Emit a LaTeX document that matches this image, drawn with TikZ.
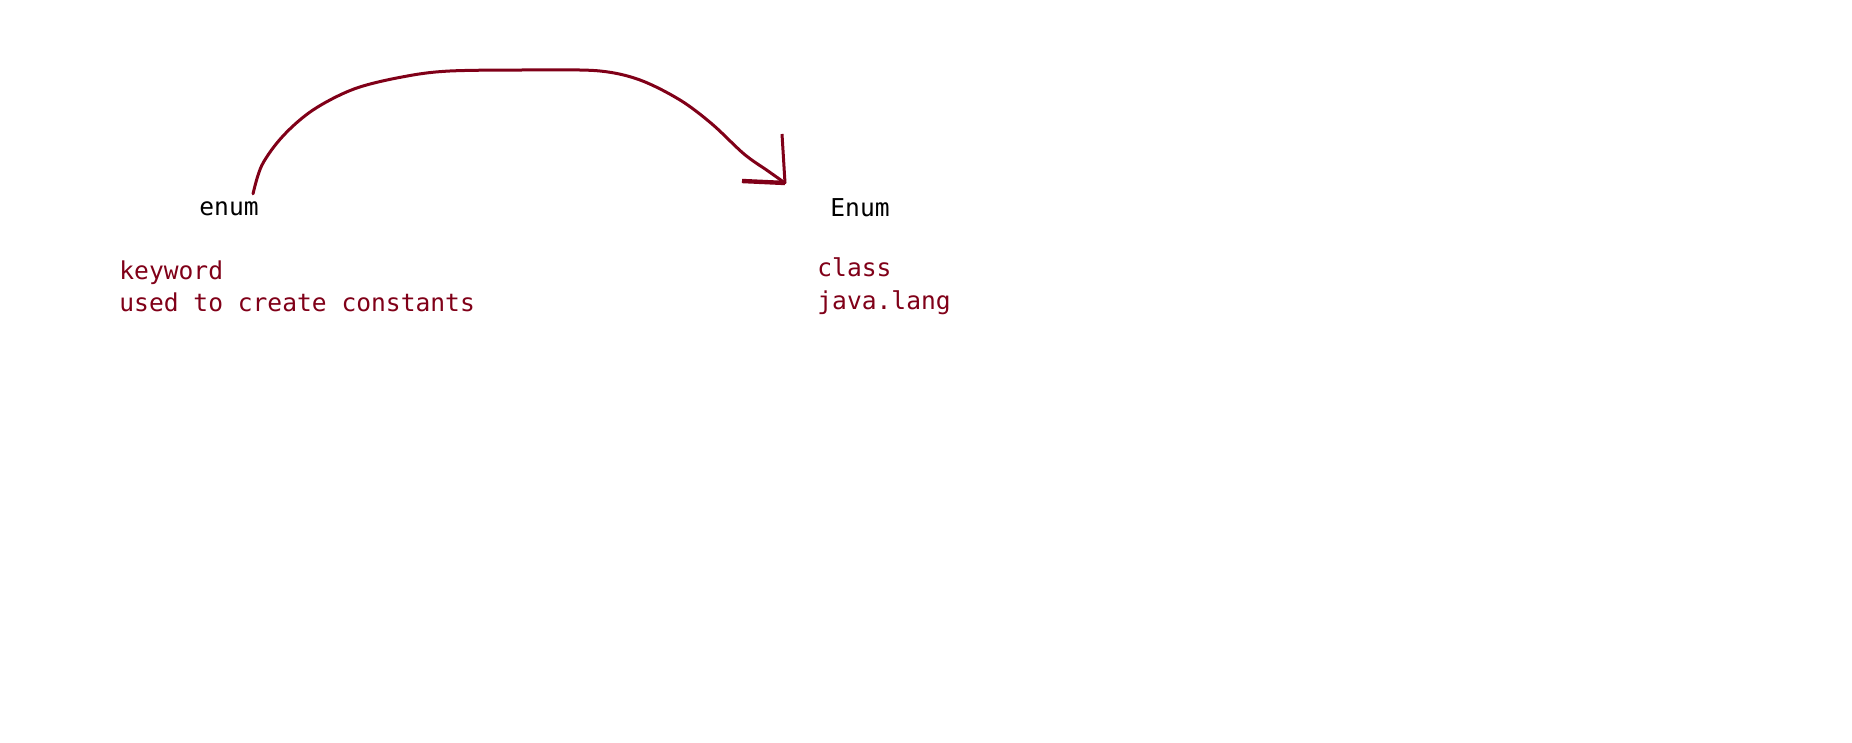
\documentclass[tikz,border=0pt]{standalone}
\usepackage{fontspec}
\setmonofont{DejaVu Sans Mono}
\usepackage{tikz}
\usetikzlibrary{arrows.meta,positioning,calc}
\definecolor{pen}{RGB}{128,0,24}

\begin{document}
\begin{tikzpicture}[x=0.5pt,y=-0.5pt,
  word/.style={anchor=base west,inner sep=0pt,font=\fontsize{12.3}{15}\ttfamily},
  note/.style={word,text=pen}]
  \useasboundingbox (0,0) rectangle (1852,743);
  \node[word] (kw) at (199,216) {enum};
  \node[word] (cls) at (830,217) {Enum};
  \node[note] (kw1) at (119,279) {keyword};
  \node[note] (kw2) at (119,312) {used to create constants};
  \node[note] (cls1) at (817,277) {class};
  \node[note] (cls2) at (817,309) {java.lang};
  \coordinate (tail) at ($(kw.north east)+(-6,-8)$);
  \coordinate (tip) at (785,183);
  % hand drawn arrow
  \draw[pen,line width=1.5pt,line cap=round] plot[smooth,tension=0.55] coordinates {(tail) (262,165) (283,136)
    (313,110) (354,89) (402,77) (450,71) (540,70) (600,71) (640,80) (680,100) (712,124) (744,154) (768,171) (tip)};
  \draw[pen,line width=1.5pt] (tip) -- ++(-3,-49);
  \draw[pen,line width=2.2pt] (tip) -- ++(-43,-2);
\end{tikzpicture}
\end{document}
